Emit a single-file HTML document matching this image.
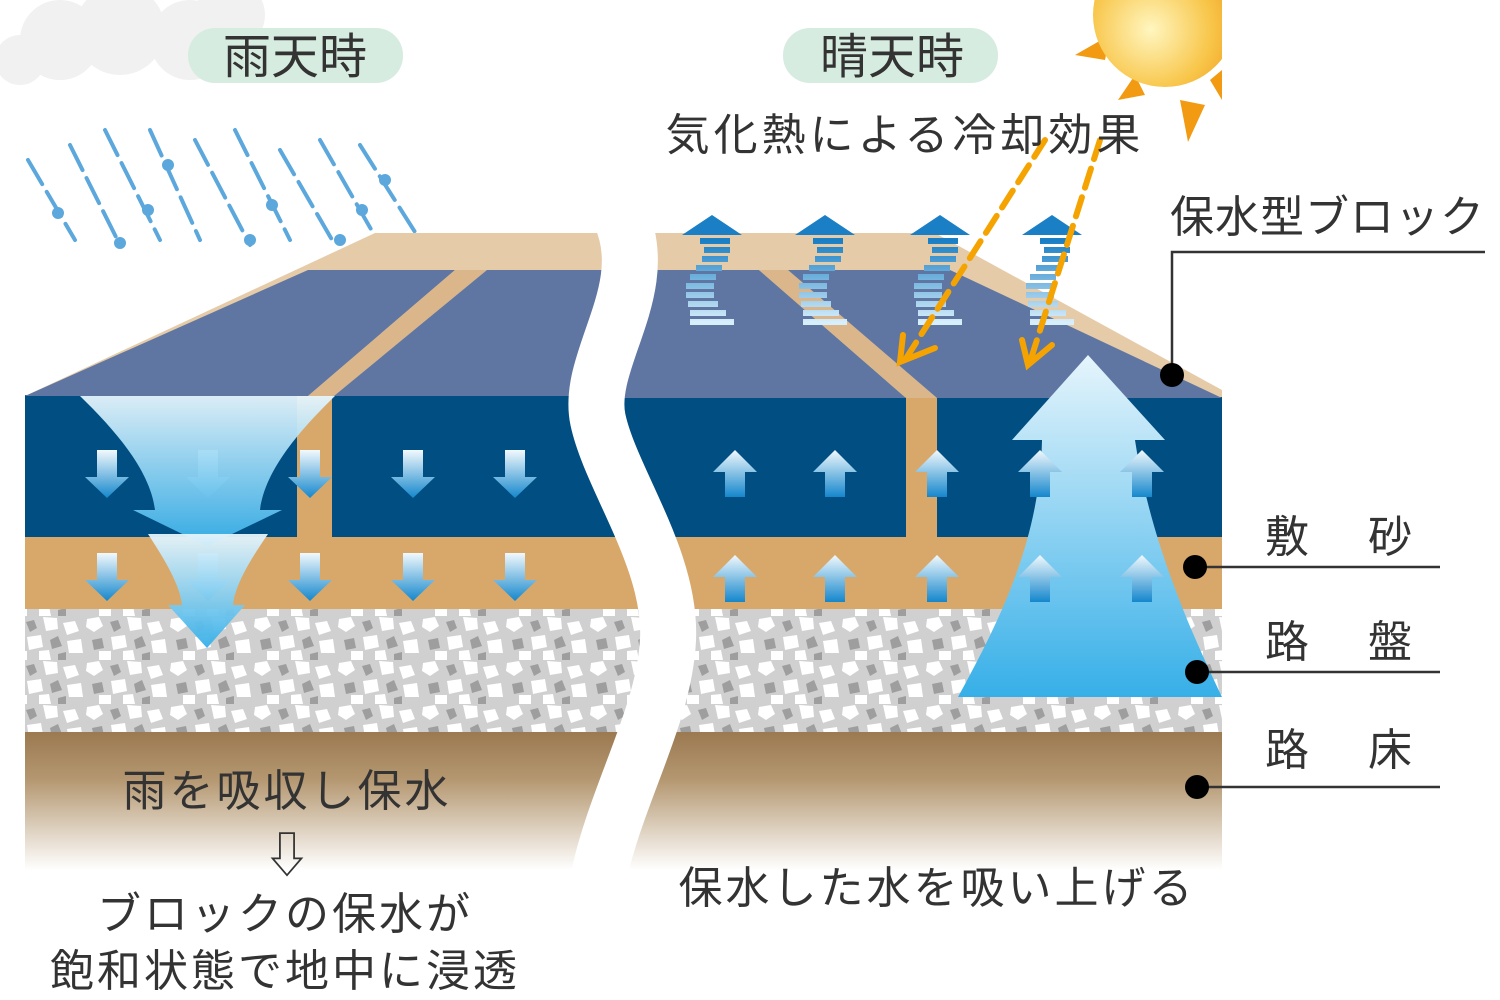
<!DOCTYPE html>
<html><head><meta charset="utf-8"><style>
html,body{margin:0;padding:0;background:#fff;width:1500px;height:1000px;overflow:hidden}
svg{display:block}
text{font-family:"Liberation Sans","Noto Sans CJK JP",sans-serif;fill:#333}
</style></head><body>
<svg width="1500" height="1000" viewBox="0 0 1500 1000" xmlns="http://www.w3.org/2000/svg">
<defs>
<linearGradient id="soil" x1="0" y1="0" x2="0" y2="1">
<stop offset="0" stop-color="#9a7850"/><stop offset="0.35" stop-color="#b49770"/><stop offset="1" stop-color="#ffffff"/></linearGradient>
<linearGradient id="dn" x1="0" y1="0" x2="0" y2="1">
<stop offset="0" stop-color="#f2f9fd"/><stop offset="1" stop-color="#1587cc"/></linearGradient>
<linearGradient id="up" x1="0" y1="1" x2="0" y2="0">
<stop offset="0" stop-color="#1587cc"/><stop offset="1" stop-color="#f2f9fd"/></linearGradient>
<linearGradient id="big" x1="0" y1="0" x2="0" y2="1">
<stop offset="0" stop-color="#e6f5fc"/><stop offset="1" stop-color="#36afe8"/></linearGradient>
<linearGradient id="steam" x1="0" y1="0" x2="0" y2="1">
<stop offset="0" stop-color="#1a7fc4"/><stop offset="1" stop-color="#d7eefb"/></linearGradient>
<radialGradient id="sun" cx="0.4" cy="0.6" r="0.7">
<stop offset="0" stop-color="#fff6c0"/><stop offset="0.6" stop-color="#f8c64a"/><stop offset="1" stop-color="#ef9a1c"/></radialGradient>
<pattern id="grav" width="84" height="44" patternUnits="userSpaceOnUse">
<rect width="84" height="44" fill="#d0d0d0"/>
<polygon points="3,3 15,1 19,10 10,16 2,11" fill="#fff"/>
<polygon points="26,6 34,4 37,12 30,16" fill="#9e9e9e"/>
<polygon points="43,1 57,2 58,13 46,15" fill="#fff"/>
<polygon points="63,7 75,5 79,15 67,19" fill="#fff"/>
<polygon points="8,24 18,22 20,32 10,34" fill="#9e9e9e"/>
<polygon points="27,21 41,19 43,31 29,34" fill="#fff"/>
<polygon points="50,24 58,20 62,30 52,33" fill="#9e9e9e"/>
<polygon points="67,25 81,23 83,37 69,37" fill="#fff"/>
<polygon points="15,35 27,35 27,44 15,44" fill="#fff"/>
<polygon points="39,35 49,34 51,44 39,44" fill="#fff"/>
<polygon points="58,38 66,36 66,44 58,44" fill="#9e9e9e"/>
</pattern>
<g id="da"><path d="M-10,0 H10 V27 H22 L0,48 L-22,27 H-10 Z" fill="url(#dn)"/></g>
<g id="ua"><path d="M-10,47 H10 V22 H22 L0,0 L-22,22 H-10 Z" fill="url(#up)"/></g>
<g id="st">
<path d="M-30,22 L0,2 L30,22 Z" fill="#1a7fc4"/>
<g stroke="url(#steam)" stroke-width="6" fill="none">
<path d="M-12,28 h30 M-8,37 h26 M-10,46 h26 M-16,55 h26 M-22,64 h26 M-26,73 h28 M-26,82 h28 M-24,91 h30 M-22,100 h36 M-22,109 h44"/>
</g></g>
</defs>

<g fill="#f1f1f1">
<circle cx="60" cy="40" r="40"/><circle cx="120" cy="30" r="45"/><circle cx="190" cy="40" r="40"/><circle cx="230" cy="15" r="35"/><circle cx="20" cy="60" r="25"/>
</g>
<g fill="#f29a12">
<polygon points="1075,55 1110,35 1105,60"/>
<polygon points="1118,100 1135,75 1145,95"/>
<polygon points="1188,142 1180,100 1205,105"/>
<polygon points="1222,100 1210,80 1222,70"/>
</g>
<circle cx="1165" cy="15" r="72" fill="url(#sun)"/>
<rect x="1222" y="0" width="280" height="200" fill="#fff"/>

<g stroke="#5ca8dc" stroke-width="4" stroke-dasharray="28 9" stroke-linecap="round">
<line x1="28" y1="160" x2="75" y2="240"/><line x1="70" y1="145" x2="120" y2="245"/>
<line x1="105" y1="130" x2="160" y2="240"/><line x1="150" y1="130" x2="200" y2="240"/>
<line x1="195" y1="140" x2="250" y2="245"/><line x1="235" y1="130" x2="290" y2="240"/>
<line x1="280" y1="150" x2="335" y2="245"/><line x1="320" y1="140" x2="380" y2="245"/>
<line x1="360" y1="145" x2="420" y2="240"/>
</g>
<g fill="#5ca8dc">
<circle cx="58" cy="213" r="6"/><circle cx="120" cy="243" r="6"/><circle cx="168" cy="165" r="6"/>
<circle cx="148" cy="210" r="6"/><circle cx="250" cy="240" r="6"/><circle cx="272" cy="205" r="6"/>
<circle cx="340" cy="240" r="6"/><circle cx="362" cy="210" r="6"/><circle cx="385" cy="180" r="6"/>
</g>

<rect x="25" y="730" width="1197" height="140" fill="url(#soil)"/>
<rect x="25" y="607" width="1197" height="125" fill="url(#grav)"/>
<rect x="25" y="537" width="1197" height="72" fill="#d8a86b"/>
<rect x="25" y="395" width="1197" height="142" fill="#004e82"/>
<rect x="297" y="395" width="35" height="142" fill="#d8a86b"/>
<rect x="906" y="395" width="31" height="142" fill="#d8a86b"/>

<polygon points="25,396 375,233 600,233 620,300 620,396" fill="#e5cba8"/>
<polygon points="25,396 308,270 455,270 308,396" fill="#5f76a3"/>
<polygon points="455,270 487,270 334,396 308,396" fill="#dab68a"/>
<polygon points="487,270 640,270 640,396 334,396" fill="#5f76a3"/>
<polygon points="620,233 935,233 1222,390 1222,397 620,397" fill="#e5cba8"/>
<polygon points="620,270 759,270 906,398 620,398" fill="#5f76a3"/>
<polygon points="759,270 788,270 937,398 906,398" fill="#dab68a"/>
<polygon points="788,270 950,270 1222,398 937,398" fill="#5f76a3"/>

<path d="M620,215 C655,290 585,360 598,420 S672,560 668,640 S612,800 596,890" stroke="#fff" stroke-width="56" fill="none"/>

<g>
<use href="#da" x="107" y="450"/><use href="#da" x="208" y="450"/><use href="#da" x="310" y="450"/><use href="#da" x="413" y="450"/><use href="#da" x="515" y="450"/>
<use href="#da" x="107" y="553"/><use href="#da" x="208" y="553"/><use href="#da" x="310" y="553"/><use href="#da" x="413" y="553"/><use href="#da" x="515" y="553"/>
</g>
<path d="M80,396 H335 C300,430 265,470 260,510 H282 L207,546 L133,510 H155 C150,470 115,430 80,396 Z" fill="url(#big)" opacity="0.95"/>
<path d="M148,534 H268 C250,560 235,585 233,605 H245 L207,648 L168,605 H182 C180,585 165,560 148,534 Z" fill="url(#big)" opacity="0.95"/>

<g>
<use href="#ua" x="735" y="450"/><use href="#ua" x="835" y="450"/><use href="#ua" x="937" y="450"/>
<use href="#ua" x="735" y="555"/><use href="#ua" x="835" y="555"/><use href="#ua" x="937" y="555"/>
</g>
<path d="M1088,355 L1165,440 H1135 C1150,540 1190,630 1222,697 H958 C1000,620 1040,540 1042,440 H1012 Z" fill="url(#big)"/>
<use href="#ua" x="1040" y="450"/><use href="#ua" x="1142" y="450"/>
<use href="#ua" x="1040" y="555"/><use href="#ua" x="1142" y="555"/>

<use href="#st" x="712" y="213"/><use href="#st" x="825" y="213"/><use href="#st" x="940" y="213"/><use href="#st" x="1052" y="213"/>

<g stroke="#f5a300" stroke-width="6" fill="none" stroke-linecap="round">
<line x1="1045" y1="140" x2="905" y2="360" stroke-dasharray="20 10"/>
<line x1="1100" y1="140" x2="1030" y2="362" stroke-dasharray="20 10"/>
<path d="M903,335 L900,362 L935,348"/>
<path d="M1022,340 L1028,365 L1052,345"/>
</g>

<rect x="188" y="28" width="215" height="55" rx="27" fill="#d7ece0"/>
<rect x="783" y="28" width="215" height="55" rx="27" fill="#d7ece0"/>
<text x="295" y="73" font-size="48" text-anchor="middle">雨天時</text>
<text x="892" y="73" font-size="48" text-anchor="middle">晴天時</text>
<text x="905" y="150" font-size="44" letter-spacing="4" text-anchor="middle">気化熱による冷却効果</text>

<text x="1170" y="232" font-size="44" letter-spacing="1">保水型ブロック</text>
<g stroke="#333" stroke-width="2.5" fill="none">
<polyline points="1485,252 1172,252 1172,375"/>
<line x1="1195" y1="567" x2="1440" y2="567"/>
<line x1="1197" y1="672" x2="1440" y2="672"/>
<line x1="1197" y1="787" x2="1440" y2="787"/>
</g>
<g fill="#000">
<circle cx="1172" cy="375" r="12"/><circle cx="1195" cy="567" r="12"/><circle cx="1197" cy="672" r="12"/><circle cx="1197" cy="787" r="12"/>
</g>
<text x="1265" y="552" font-size="44">敷</text><text x="1368" y="552" font-size="44">砂</text>
<text x="1265" y="657" font-size="44">路</text><text x="1368" y="657" font-size="44">盤</text>
<text x="1265" y="765" font-size="44">路</text><text x="1368" y="765" font-size="44">床</text>

<text x="287" y="806" font-size="44" letter-spacing="3" text-anchor="middle">雨を吸収し保水</text>
<text x="287" y="872" font-size="48" text-anchor="middle">⇩</text>
<text x="285" y="929" font-size="44" letter-spacing="3" text-anchor="middle">ブロックの保水が</text>
<text x="285" y="986" font-size="44" letter-spacing="3" text-anchor="middle">飽和状態で地中に浸透</text>
<text x="937" y="903" font-size="44" letter-spacing="3" text-anchor="middle">保水した水を吸い上げる</text>
</svg>
</body></html>
